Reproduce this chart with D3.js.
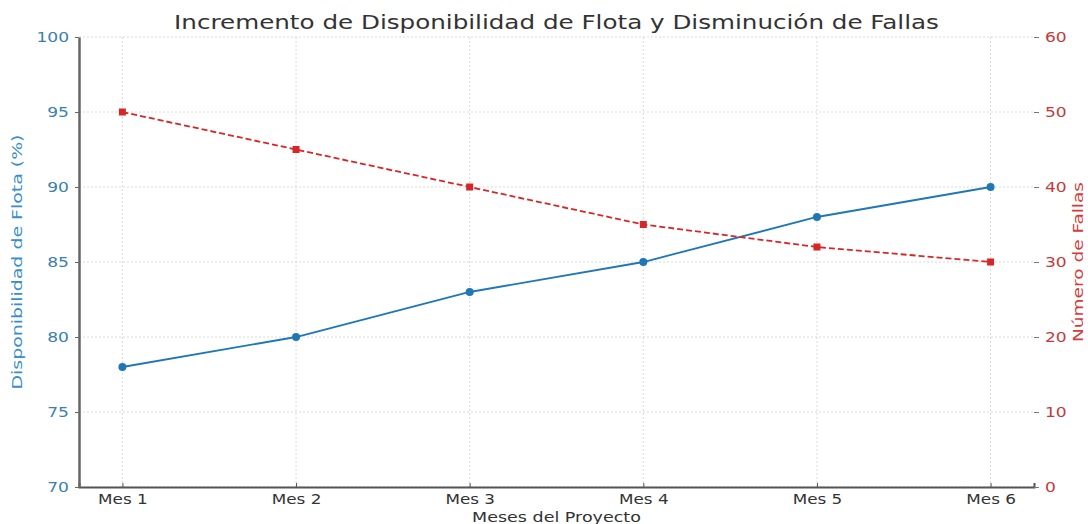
<!DOCTYPE html>
<html>
<head>
<meta charset="utf-8">
<script src="https://cdn.jsdelivr.net/npm/d3@7"></script>
<style>
  body { margin: 0; background: #fff; }
  text { font-family: "DejaVu Sans", sans-serif; }
</style>
</head>
<body>
<div class="chart"></div>
<script>
// Data
const months = ["Mes 1", "Mes 2", "Mes 3", "Mes 4", "Mes 5", "Mes 6"];
const disponibilidad = [78, 80, 83, 85, 88, 90];
const fallas = [50, 45, 40, 35, 32, 30];
const leftTicks = [70, 75, 80, 85, 90, 95, 100];
const rightTicks = [0, 10, 20, 30, 40, 50, 60];

const width = 1088
const height = 524
const margin = { top: 37, right: 54, bottom: 37, left: 79 };
const innerW = width - margin.left - margin.right
const innerH = height - margin.top - margin.bottom

const blue = "#1f77b4"
const red = "#d62728"

const svg = d3.select(".chart")
    .append("svg")
    .attr("width", width)
    .attr("height", height)
    .append("g")
    .attr("transform", "translate(" + margin.left + "," + margin.top + ")")

// the reference image is a bit wide: stretch text along its baseline
function stretch(sel, factor) {
    sel.each(function () {
        const len = this.getComputedTextLength();
        d3.select(this)
            .attr("textLength", len * factor)
            .attr("lengthAdjust", "spacingAndGlyphs");
    });
}

// Scales (matplotlib style 5% margins on x)
const x = d3.scaleLinear()
    .domain([-0.25, months.length - 0.75])
    .range([0, innerW]);
const yLeft = d3.scaleLinear().domain([70, 100]).range([innerH, 0]);
const yRight = d3.scaleLinear().domain([0, 60]).range([innerH, 0]);

// Grid
svg.append("g")
    .selectAll("line")
    .data(months)
    .join("line")
    .attr("x1", (d, i) => x(i)).attr("x2", (d, i) => x(i))
    .attr("y1", 0).attr("y2", innerH)
    .attr("stroke", "#cfcfcf")
    .attr("stroke-width", 0.8)
    .attr("stroke-dasharray", "2,2");
svg.append("g")
    .selectAll("line")
    .data(leftTicks)
    .join("line")
    .attr("x1", 0).attr("x2", innerW)
    .attr("y1", d => yLeft(d)).attr("y2", d => yLeft(d))
    .attr("stroke", "#cfcfcf")
    .attr("stroke-width", 0.8)
    .attr("stroke-dasharray", "2,2");

// Axes
const xAxis = svg.append("g")
    .attr("transform", "translate(0," + innerH + ")")
    .call(d3.axisBottom(x).tickValues(d3.range(months.length)).tickFormat(i => months[i]).tickSize(-4).tickPadding(7));
xAxis.select(".domain").attr("stroke", "#555").attr("stroke-width", 2);
xAxis.selectAll(".tick line").attr("stroke", "#555");
xAxis.selectAll("text").attr("fill", "#333").style("font-size", "14px").call(stretch, 1.2);

const leftAxis = svg.append("g")
    .call(d3.axisLeft(yLeft).tickValues(leftTicks).tickSize(4).tickSizeOuter(0).tickPadding(6));
leftAxis.select(".domain").attr("stroke", "#666").attr("stroke-width", 2.5);
leftAxis.selectAll(".tick line").attr("stroke", "#666");
leftAxis.selectAll("text").attr("fill", "#3a80b0").style("font-size", "14px").call(stretch, 1.22);

const rightAxis = svg.append("g")
    .attr("transform", "translate(" + innerW + ",0)")
    .call(d3.axisRight(yRight).tickValues(rightTicks).tickSize(5).tickPadding(6));
rightAxis.select(".domain").remove();
rightAxis.selectAll(".tick line").attr("stroke", "#777");
rightAxis.selectAll("text").attr("fill", "#c43a3a").style("font-size", "14px").call(stretch, 1.22);

// Lines
const blueLine = d3.line().x((d, i) => x(i)).y(d => yLeft(d));
const redLine = d3.line().x((d, i) => x(i)).y(d => yRight(d));

svg.append("path")
    .datum(disponibilidad)
    .attr("d", blueLine)
    .attr("fill", "none")
    .attr("stroke", blue)
    .attr("stroke-width", 1.8);
svg.selectAll(".dot")
    .data(disponibilidad)
    .join("circle")
    .attr("class", "dot")
    .attr("cx", (d, i) => x(i))
    .attr("cy", d => yLeft(d))
    .attr("r", 4)
    .attr("fill", blue);

svg.append("path")
    .datum(fallas)
    .attr("d", redLine)
    .attr("fill", "none")
    .attr("stroke", red)
    .attr("stroke-width", 1.8)
    .attr("stroke-dasharray", "6,3");
svg.selectAll(".sq")
    .data(fallas)
    .join("rect")
    .attr("class", "sq")
    .attr("x", (d, i) => x(i) - 3.5)
    .attr("y", d => yRight(d) - 3.5)
    .attr("width", 7)
    .attr("height", 7)
    .attr("fill", red);

// Title and labels
svg.append("text")
    .attr("x", innerW / 2)
    .attr("y", -8)
    .attr("text-anchor", "middle")
    .attr("fill", "#333")
    .style("font-size", "20px")
    .text("Incremento de Disponibilidad de Flota y Disminución de Fallas")
    .call(stretch, 1.23);

svg.append("text")
    .attr("x", innerW / 2)
    .attr("y", innerH + 35)
    .attr("text-anchor", "middle")
    .attr("fill", "#333")
    .style("font-size", "14px")
    .text("Meses del Proyecto")
    .call(stretch, 1.25);

svg.append("text")
    .attr("transform", "rotate(-90)")
    .attr("x", -innerH / 2)
    .attr("y", -57)
    .attr("text-anchor", "middle")
    .attr("fill", "#3a8fc8")
    .style("font-size", "14px")
    .attr("textLength", 255)
    .attr("lengthAdjust", "spacingAndGlyphs")
    .text("Disponibilidad de Flota (%)");

svg.append("text")
    .attr("transform", "rotate(-90)")
    .attr("x", -innerH / 2)
    .attr("y", innerW + 49)
    .attr("text-anchor", "middle")
    .attr("fill", "#d63a3a")
    .style("font-size", "14px")
    .attr("textLength", 160)
    .attr("lengthAdjust", "spacingAndGlyphs")
    .text("Número de Fallas");
</script>
</body>
</html>
